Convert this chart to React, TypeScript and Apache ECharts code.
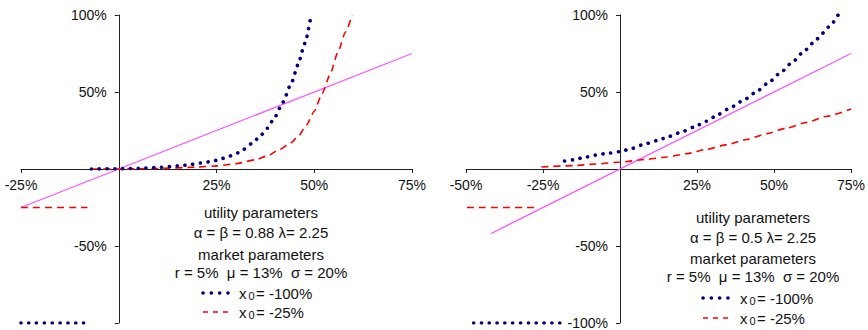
import React, { useEffect, useRef } from "react";
import * as echarts from "echarts";

const FONT = '"Liberation Sans", Arial, sans-serif';
const NAVY = "#000080";
const RED = "#ff0000";
const MAGENTA = "#ff55ff";

// Tick values (percent)
const leftXTicks = [-25, 0, 25, 50, 75];
const rightXTicks = [-50, -25, 0, 25, 50, 75];
const yTicks = [-100, -50, 0, 50, 100];

// Left panel: alpha = beta = 0.88, lambda = 2.25
const leftDiagonal = [[-25, -25], [75, 75]];
const leftX100Loss = [[-25, -100], [-8, -100]];
const leftX100Gain = [
  [-7, 0], [0, 0.2], [5, 0.4], [10, 1], [15, 2], [18, 2.7], [21, 3.9], [24, 5],
  [26, 6.5], [28, 8], [30, 10], [32, 12.8], [34, 16.5], [36, 20.8], [38, 26.5],
  [40, 34], [42, 43.5], [44, 55], [46, 68.5], [47, 77], [48, 85], [49, 96.5], [49.3, 100],
];
const leftX25Loss = [[-25, -25], [-8, -25]];
const leftX25Gain = [
  [-7, 0], [0, 0], [10, 0.3], [20, 1.2], [25, 2], [30, 3.5], [35, 6], [38, 8.5],
  [41, 12.5], [44, 17], [46, 21.5], [48, 28.5], [50, 37.5], [52, 49], [54, 61],
  [56, 75.5], [58, 89], [59.7, 100],
];

// Right panel: alpha = beta = 0.5, lambda = 2.25
const rightDiagonal = [[-42, -42], [75, 75]];
const rightX100Loss = [[-47.5, -100], [-18.8, -100]];
const rightX100Gain = [
  [-18, 5.2], [-15, 6], [-12, 7.3], [-8, 9], [-4, 10.2], [0, 11.3], [4, 13.4],
  [8, 16.2], [12, 18.4], [16, 21.2], [20, 24], [24, 27.2], [28, 31], [32, 35.5],
  [36, 40], [40, 44.5], [44, 49.7], [48, 55.7], [52, 62.3], [56, 69.5], [60, 77],
  [64, 84.5], [68, 92.5], [70.8, 100],
];
const rightX25Loss = [[-49.7, -25], [-26.3, -25]];
const rightX25Gain = [
  [-25.5, 1.3], [-15, 2.2], [-8, 3.2], [0, 4.5], [8.8, 6.3], [15.3, 7.8],
  [21.8, 10], [28.2, 12.8], [34.7, 15.8], [41.2, 19.2], [47.7, 23], [54.2, 26.6],
  [60.7, 30.3], [67.2, 34.3], [75, 39],
];

const utilityLeft = "\u03b1 = \u03b2 = 0.88 \u03bb= 2.25";
const utilityRight = "\u03b1 = \u03b2 = 0.5 \u03bb= 2.25";
const marketText = "r = 5%  \u03bc = 13%  \u03c3 = 20%";
const legendLabels = ["= -100%", "= -25%"];

// Grid geometry
const GRID_TOP = 15;
const GRID_H = 308;
const LEFT_GRID = { left: 21, width: 391 };
const RIGHT_GRID = { left: 466, width: 385 };

const dotted = (data: number[][], idx: number) => ({
  type: "line",
  xAxisIndex: idx,
  yAxisIndex: idx,
  data,
  symbol: "none",
  silent: true,
  smooth: 0.2,
  smoothMonotone: "x",
  lineStyle: { color: NAVY, width: 3.6, type: [0.1, 7.7], cap: "round" },
});

const dashed = (data: number[][], idx: number) => ({
  type: "line",
  xAxisIndex: idx,
  yAxisIndex: idx,
  data,
  symbol: "none",
  silent: true,
  smooth: 0.2,
  smoothMonotone: "x",
  lineStyle: { color: RED, width: 1.6, type: [7, 5], cap: "butt" },
});

const solid = (data: number[][], idx: number) => ({
  type: "line",
  xAxisIndex: idx,
  yAxisIndex: idx,
  data,
  symbol: "none",
  silent: true,
  lineStyle: { color: MAGENTA, width: 1.2 },
});

const axisCommon = {
  axisTick: { show: true, inside: false, length: 4, lineStyle: { color: "#222" } },
  splitLine: { show: false },
};

const pct = (hide: number[]) => (v: number) => (hide.includes(v) ? "" : `${v}%`);

// Offset (px) that moves an edge axis onto the other axis's zero
const zeroOffset = (ticks: number[], span: number) =>
  -(span * (0 - ticks[0])) / (ticks[ticks.length - 1] - ticks[0]);

const xAxisFor = (ticks: number[], grid: number) => ({
  type: "value",
  gridIndex: grid,
  position: "bottom",
  offset: zeroOffset(yTicks, GRID_H),
  min: ticks[0],
  max: ticks[ticks.length - 1],
  interval: 25,
  ...axisCommon,
  axisLine: { onZero: false, lineStyle: { color: "#222", width: 1 } },
  axisLabel: {
    formatter: pct([0]),
    fontFamily: FONT,
    fontSize: 14,
    color: "#111",
    margin: 9,
    showMinLabel: true,
    showMaxLabel: true,
  },
});

const yAxisFor = (grid: number, xTicks: number[], width: number, hide: number[]) => ({
  type: "value",
  gridIndex: grid,
  position: "left",
  offset: zeroOffset(xTicks, width),
  min: yTicks[0],
  max: yTicks[yTicks.length - 1],
  interval: 50,
  ...axisCommon,
  axisLine: { onZero: false, lineStyle: { color: "#222", width: 1 } },
  axisLabel: {
    formatter: pct(hide),
    fontFamily: FONT,
    fontSize: 14,
    color: "#111",
    margin: 12,
    showMinLabel: true,
    showMaxLabel: true,
  },
});

const txt = (x: number, y: number, text: string, size = 15, align = "center") => ({
  type: "text",
  x,
  y,
  silent: true,
  style: {
    text,
    font: `${size}px ${FONT}`,
    fill: "#111",
    textAlign: align,
    textVerticalAlign: "middle",
  },
});

const paramBlock = (
  cx: number,
  rows: number[],
  utility: string,
  sampleX: number,
  labelX: number
) => [
  txt(cx, rows[0], "utility parameters"),
  txt(cx, rows[1], utility),
  txt(cx, rows[2], "market parameters"),
  txt(cx, rows[3], marketText),
  {
    type: "line",
    silent: true,
    shape: { x1: sampleX, y1: rows[4], x2: sampleX + 26, y2: rows[4] },
    style: { stroke: NAVY, lineWidth: 3.6, lineDash: [0.1, 8.2], lineCap: "round" },
  },
  {
    type: "line",
    silent: true,
    shape: { x1: sampleX, y1: rows[5], x2: sampleX + 27, y2: rows[5] },
    style: { stroke: RED, lineWidth: 1.6, lineDash: [5, 5] },
  },
  txt(labelX, rows[4], "x", 15, "left"),
  txt(labelX + 9.5, rows[4] + 3, "0", 11, "left"),
  txt(labelX + 17, rows[4], legendLabels[0], 15, "left"),
  txt(labelX, rows[5], "x", 15, "left"),
  txt(labelX + 9.5, rows[5] + 3, "0", 11, "left"),
  txt(labelX + 17, rows[5], legendLabels[1], 15, "left"),
];

export default function App() {
  const ref = useRef<HTMLDivElement>(null);

  useEffect(() => {
    if (!ref.current) return;
    const chart = echarts.init(ref.current, undefined, { renderer: "svg" });
    chart.setOption({
      animation: false,
      backgroundColor: "#ffffff",
      grid: [
        { ...LEFT_GRID, top: GRID_TOP, height: GRID_H, containLabel: false, outerBoundsMode: "none" },
        { ...RIGHT_GRID, top: GRID_TOP, height: GRID_H, containLabel: false, outerBoundsMode: "none" },
      ],
      xAxis: [xAxisFor(leftXTicks, 0), xAxisFor(rightXTicks, 1)],
      yAxis: [
        yAxisFor(0, leftXTicks, LEFT_GRID.width, [0, -100]),
        yAxisFor(1, rightXTicks, RIGHT_GRID.width, [0]),
      ],
      series: [
        solid(leftDiagonal, 0),
        dashed(leftX25Loss, 0),
        dashed(leftX25Gain, 0),
        dotted(leftX100Loss, 0),
        dotted(leftX100Gain, 0),
        solid(rightDiagonal, 1),
        dashed(rightX25Loss, 1),
        dashed(rightX25Gain, 1),
        dotted(rightX100Loss, 1),
        dotted(rightX100Gain, 1),
      ],
      graphic: [
        ...paramBlock(261, [212, 232, 254, 272, 293, 312], utilityLeft, 203, 239),
        ...paramBlock(753, [217, 237, 258, 276, 298, 318], utilityRight, 703, 740),
      ],
    });
    return () => chart.dispose();
  }, []);

  return (
    <div
      ref={ref}
      style={{ position: "fixed", left: 0, top: 0, width: 868, height: 330, background: "#fff" }}
    />
  );
}
